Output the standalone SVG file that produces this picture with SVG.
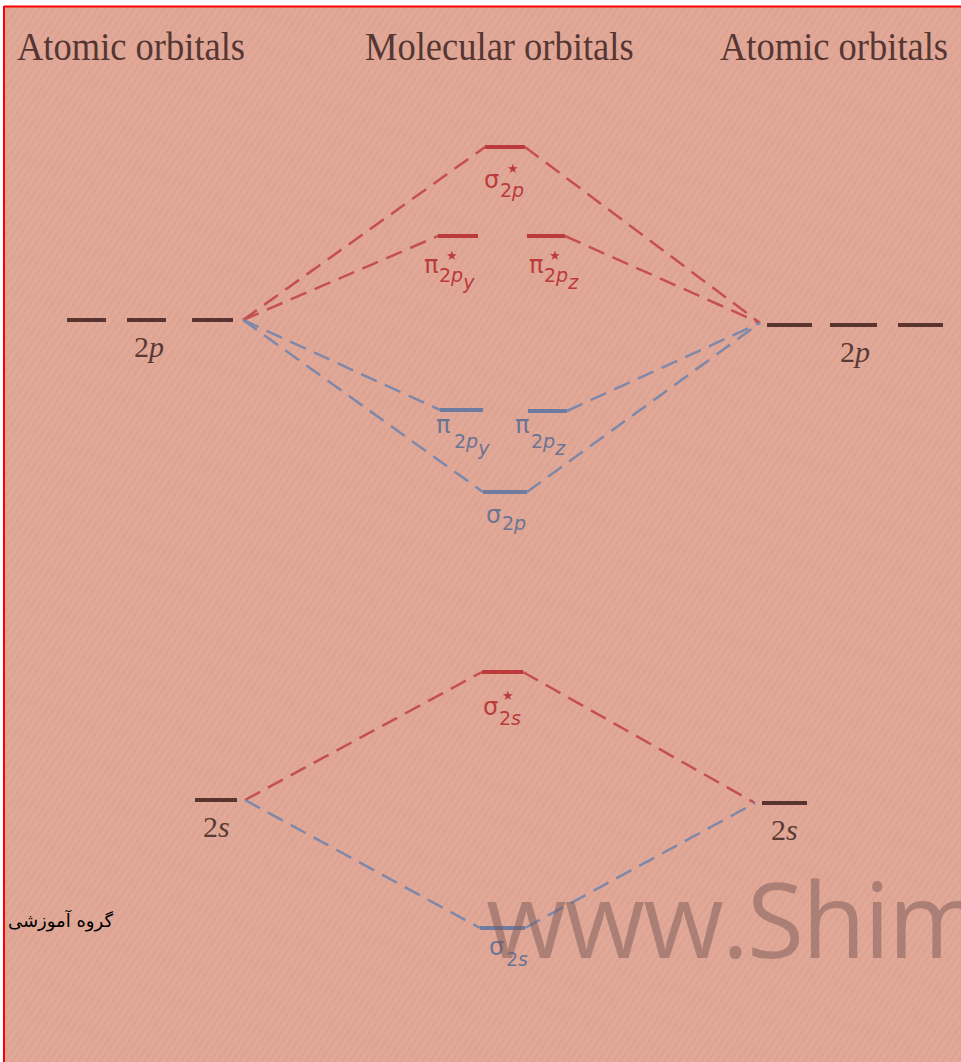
<svg xmlns="http://www.w3.org/2000/svg" width="961" height="1062" viewBox="0 0 961 1062">
<defs>
<pattern id="tex" width="6" height="6" patternUnits="userSpaceOnUse" patternTransform="rotate(-55)">
<rect width="6" height="6" fill="#e1a897"/>
<rect width="6" height="2" fill="#d9a090" opacity="0.6"/>
</pattern>
</defs>
<style>
.title{font-family:"Liberation Serif",serif;font-size:36.5px;fill:#553633}
.ao{font-family:"Liberation Serif",serif;font-size:30px;fill:#5a3a34}
.aobar{stroke:#5a3530;stroke-width:4}
.redbar{stroke:#bb3a3c;stroke-width:4}
.bluebar{stroke:#6f7ca0;stroke-width:4}
.red{stroke:#c55050;stroke-width:2.5;fill:none;stroke-dasharray:17 9}
.blue{stroke:#7d88aa;stroke-width:2.5;fill:none;stroke-dasharray:17 9}
.rl{font-family:"DejaVu Sans",sans-serif;fill:#bb3a3c}
.bl{font-family:"DejaVu Sans",sans-serif;fill:#6a7495}
.g{font-size:24px}
.s{font-size:19px}
.st{font-size:13px}
</style>
<rect width="961" height="1062" fill="#ffffff"/>
<rect x="4" y="7" width="957" height="1055" fill="url(#tex)"/>
<line x1="4" y1="6.5" x2="961" y2="6.5" stroke="#ff0000" stroke-width="2"/>
<line x1="4" y1="6" x2="4" y2="1062" stroke="#ff0000" stroke-width="2"/>

<g id="titles">
<text class="title" transform="translate(17,60) scale(1,1.12)">Atomic orbitals</text>
<text class="title" transform="translate(365,60) scale(1,1.12)">Molecular orbitals</text>
<text class="title" transform="translate(720,60) scale(1,1.12)">Atomic orbitals</text>
</g>

<g id="connectors">
<path class="red" d="M243 320 L485 147"/>
<path class="red" d="M525 147 L760 323"/>
<path class="red" d="M243 320 L438 236"/>
<path class="red" d="M565 236 L760 323"/>
<path class="blue" d="M243 320 L440 410"/>
<path class="blue" d="M243 320 L483 492"/>
<path class="blue" d="M567 411 L760 323"/>
<path class="blue" d="M527 492 L760 323"/>
<path class="red" d="M245 800 L482 672"/>
<path class="red" d="M523 672 L755 803"/>
<path class="blue" d="M245 800 L480 928"/>
<path class="blue" d="M525 928 L755 803"/>
</g>

<g id="ao-2p-left">
<line class="aobar" x1="67" y1="320" x2="106" y2="320"/>
<line class="aobar" x1="127" y1="320" x2="166" y2="320"/>
<line class="aobar" x1="192" y1="320" x2="233" y2="320"/>
<text class="ao" x="134" y="357"><tspan>2</tspan><tspan font-style="italic">p</tspan></text>
</g>
<g id="ao-2p-right">
<line class="aobar" x1="767" y1="325" x2="812" y2="325"/>
<line class="aobar" x1="830" y1="325" x2="877" y2="325"/>
<line class="aobar" x1="898" y1="325" x2="943" y2="325"/>
<text class="ao" x="840" y="362"><tspan>2</tspan><tspan font-style="italic">p</tspan></text>
</g>
<g id="ao-2s-left">
<line class="aobar" x1="195" y1="800" x2="237" y2="800"/>
<text class="ao" x="203" y="837"><tspan>2</tspan><tspan font-style="italic">s</tspan></text>
</g>
<g id="ao-2s-right">
<line class="aobar" x1="762" y1="803" x2="807" y2="803"/>
<text class="ao" x="771" y="840"><tspan>2</tspan><tspan font-style="italic">s</tspan></text>
</g>

<g id="mo-sigma-star-2p">
<line class="redbar" x1="485" y1="147" x2="525" y2="147"/>
<text class="rl g" x="484" y="188">σ</text>
<text class="rl st" x="507" y="173">★</text>
<text class="rl s" x="500" y="197">2<tspan font-style="italic">p</tspan></text>
</g>
<g id="mo-pi-star-2py">
<line class="redbar" x1="438" y1="236" x2="478" y2="236"/>
<text class="rl g" x="424" y="273">π</text>
<text class="rl st" x="446" y="260">★</text>
<text class="rl s" x="439" y="282">2<tspan font-style="italic">p</tspan><tspan font-style="italic" dy="7">y</tspan></text>
</g>
<g id="mo-pi-star-2pz">
<line class="redbar" x1="527" y1="236" x2="565" y2="236"/>
<text class="rl g" x="529" y="273">π</text>
<text class="rl st" x="549" y="260">★</text>
<text class="rl s" x="544" y="282">2<tspan font-style="italic">p</tspan><tspan font-style="italic" dy="7">z</tspan></text>
</g>
<g id="mo-pi-2py">
<line class="bluebar" x1="440" y1="410" x2="483" y2="410"/>
<text class="bl g" x="436" y="433">π</text>
<text class="bl s" x="454" y="448">2<tspan font-style="italic">p</tspan><tspan font-style="italic" dy="7">y</tspan></text>
</g>
<g id="mo-pi-2pz">
<line class="bluebar" x1="528" y1="411" x2="567" y2="411"/>
<text class="bl g" x="515" y="433">π</text>
<text class="bl s" x="531" y="448">2<tspan font-style="italic">p</tspan><tspan font-style="italic" dy="7">z</tspan></text>
</g>
<g id="mo-sigma-2p">
<line class="bluebar" x1="483" y1="492" x2="527" y2="492"/>
<text class="bl g" x="486" y="523">σ</text>
<text class="bl s" x="502" y="530">2<tspan font-style="italic">p</tspan></text>
</g>
<g id="mo-sigma-star-2s">
<line class="redbar" x1="482" y1="672" x2="523" y2="672"/>
<text class="rl g" x="483" y="715">σ</text>
<text class="rl st" x="502" y="700">★</text>
<text class="rl s" x="499" y="725">2<tspan font-style="italic">s</tspan></text>
</g>
<g id="mo-sigma-2s">
<line class="bluebar" x1="480" y1="928" x2="525" y2="928"/>
<text class="bl g" x="489" y="955">σ</text>
<text class="bl s" x="506" y="966">2<tspan font-style="italic">s</tspan></text>
</g>

<g id="watermark">
<text x="486" y="958" font-family="'Open Sans',sans-serif" font-size="104" letter-spacing="-2" fill="#7a5a58" opacity="0.5">www.Shim</text>
<text x="8" y="927" font-family="'DejaVu Serif','DejaVu Sans',serif" font-size="18" fill="#000000">گروه آموزشی</text>
</g>
</svg>
